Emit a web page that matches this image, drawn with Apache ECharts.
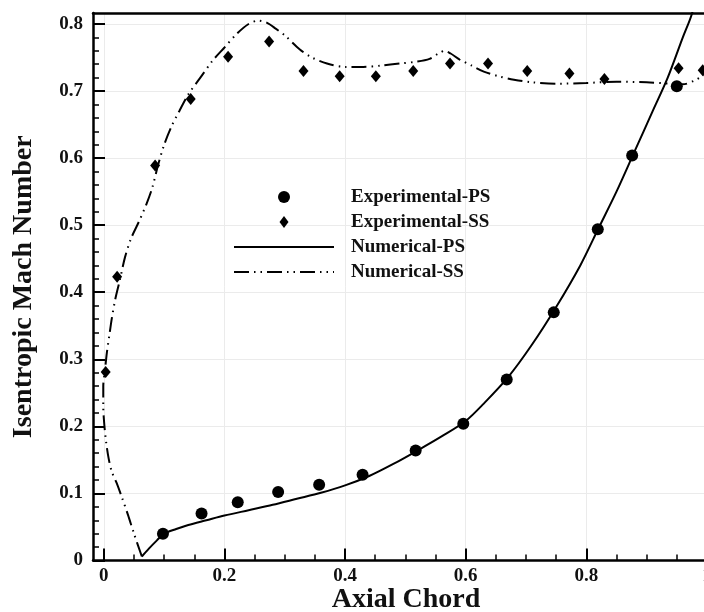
<!DOCTYPE html>
<html>
<head>
<meta charset="utf-8">
<title>Isentropic Mach Number</title>
<script src="https://cdn.jsdelivr.net/npm/echarts@6/dist/echarts.min.js"></script>
<style>
  html, body { margin: 0; padding: 0; background: #fff; }
  #main { width: 704px; height: 612px; }
</style>
</head>
<body>
<div id="main"></div>
<script>
// tick values
var xMajor = [0, 0.2, 0.4, 0.6, 0.8, 1];
var xMinor = [0.05, 0.1, 0.15, 0.25, 0.3, 0.35, 0.45, 0.5, 0.55, 0.65, 0.7, 0.75, 0.85, 0.9, 0.95];
var yMajor = [0, 0.1, 0.2, 0.3, 0.4, 0.5, 0.6, 0.7, 0.8];
var yMinor = [0.02, 0.04, 0.06, 0.08, 0.12, 0.14, 0.16, 0.18, 0.22, 0.24, 0.26, 0.28,
              0.32, 0.34, 0.36, 0.38, 0.42, 0.44, 0.46, 0.48, 0.52, 0.54, 0.56, 0.58,
              0.62, 0.64, 0.66, 0.68, 0.72, 0.74, 0.76, 0.78];

// experimental points [axial chord, mach]
var expPS = [[0.098, 0.04], [0.162, 0.07], [0.222, 0.087], [0.289, 0.102], [0.357, 0.113],
             [0.429, 0.128], [0.517, 0.164], [0.596, 0.204], [0.668, 0.27], [0.746, 0.37],
             [0.819, 0.494], [0.876, 0.604], [0.95, 0.707]];
var expSS = [[0.003, 0.281], [0.022, 0.423], [0.085, 0.589], [0.144, 0.688], [0.206, 0.751],
             [0.274, 0.774], [0.331, 0.73], [0.391, 0.722], [0.451, 0.722], [0.513, 0.73],
             [0.574, 0.741], [0.637, 0.741], [0.702, 0.73], [0.772, 0.726], [0.83, 0.718],
             [0.953, 0.734], [0.993, 0.731]];

// numerical curves
var numPS = [[0.063, 0.006], [0.075, 0.018], [0.088, 0.03], [0.1, 0.04], [0.12, 0.047],
             [0.14, 0.053], [0.17, 0.06], [0.2, 0.067], [0.24, 0.075], [0.28, 0.083],
             [0.32, 0.092], [0.36, 0.101], [0.4, 0.112], [0.44, 0.126], [0.48, 0.144],
             [0.52, 0.164], [0.56, 0.185], [0.6, 0.208], [0.63, 0.234], [0.67, 0.273],
             [0.71, 0.322], [0.75, 0.378], [0.79, 0.44], [0.82, 0.495], [0.85, 0.55],
             [0.88, 0.61], [0.91, 0.67], [0.935, 0.72], [0.96, 0.78], [0.975, 0.815],
             [0.99, 0.87]];
var numSS = [[0.063, 0.006], [0.05, 0.04], [0.04, 0.068], [0.03, 0.094], [0.021, 0.116],
             [0.013, 0.133], [0.008, 0.152], [0.004, 0.175], [0.001, 0.2], [-0.001, 0.23],
             [-0.001, 0.26], [0.002, 0.285], [0.005, 0.31], [0.009, 0.335], [0.013, 0.36],
             [0.019, 0.39], [0.027, 0.42], [0.035, 0.452], [0.045, 0.48], [0.058, 0.505],
             [0.07, 0.53], [0.08, 0.555], [0.09, 0.59], [0.1, 0.62], [0.112, 0.647],
             [0.125, 0.67], [0.14, 0.695], [0.16, 0.72], [0.18, 0.745], [0.2, 0.765],
             [0.22, 0.785], [0.24, 0.8], [0.256, 0.805], [0.27, 0.802], [0.285, 0.793],
             [0.3, 0.783], [0.325, 0.762], [0.345, 0.75], [0.37, 0.741], [0.4, 0.736],
             [0.43, 0.736], [0.46, 0.738], [0.49, 0.741], [0.52, 0.744], [0.54, 0.748],
             [0.555, 0.756], [0.565, 0.76], [0.575, 0.756], [0.59, 0.747], [0.61, 0.738],
             [0.63, 0.729], [0.655, 0.722], [0.68, 0.717], [0.71, 0.713], [0.75, 0.711],
             [0.8, 0.712], [0.85, 0.714], [0.9, 0.713], [0.94, 0.711], [0.96, 0.71],
             [0.98, 0.716], [1.0, 0.726]];

var FONT = '"Liberation Serif", "Times New Roman", serif';
var X_MIN = -0.018, X_MAX = 1.02, Y_MIN = 0, Y_MAX = 0.8164;
// zrender multiplies the dash array by the line width (2)
var ssDash = [15, 5, 1.5, 5, 1.5, 5];

var gridBox = { left: 93, top: 13, width: 626, height: 547.5, containLabel: false, outerBoundsMode: 'none' };

var chart = echarts.init(document.getElementById('main'));
var option = {
    animation: false,
    backgroundColor: '#fff',
    grid: [
        Object.assign({}, gridBox),
        Object.assign({}, gridBox)
    ],
    legend: {
        orient: 'vertical',
        left: 233,
        top: 187,
        padding: 0,
        itemWidth: 100,
        itemHeight: 12,
        itemGap: 5,
        selectedMode: false,
        symbolKeepAspect: true,
        textStyle: {
            fontFamily: FONT, fontWeight: 'bold', fontSize: 19, color: '#111',
            lineHeight: 20, padding: [0, 0, 0, 12]
        },
        data: [
            { name: 'Experimental-PS', icon: 'circle' },
            { name: 'Experimental-SS', icon: 'path://M5,0L9.5,6L5,12L0.5,6Z' },
            { name: 'Numerical-PS', itemStyle: { opacity: 0 } },
            { name: 'Numerical-SS', itemStyle: { opacity: 0 } }
        ]
    },
    xAxis: [
        {   // main bottom axis
            type: 'value', gridIndex: 0, position: 'bottom',
            min: X_MIN, max: X_MAX,
            name: 'Axial Chord', nameLocation: 'middle', nameGap: 25, nameMoveOverlap: false,
            nameTextStyle: { fontFamily: FONT, fontWeight: 'bold', fontSize: 28, color: '#111' },
            axisLine: { show: true, onZero: false, lineStyle: { color: '#000', width: 2.5 } },
            axisTick: { show: true, inside: true, length: 12, customValues: xMajor, lineStyle: { color: '#000', width: 2 } },
            axisLabel: {
                show: true, customValues: xMajor, margin: 6,
                fontFamily: FONT, fontWeight: 'bold', fontSize: 19, color: '#111'
            },
            splitLine: { show: true, lineStyle: { color: '#ebebeb', width: 1 } }
        },
        {   // top frame
            type: 'value', gridIndex: 0, position: 'top',
            min: X_MIN, max: X_MAX,
            axisLine: { show: true, onZero: false, lineStyle: { color: '#000', width: 2.5 } },
            axisTick: { show: false }, axisLabel: { show: false }, splitLine: { show: false }
        },
        {   // minor ticks
            type: 'value', gridIndex: 1, position: 'bottom',
            min: X_MIN, max: X_MAX,
            axisLine: { show: false, onZero: false },
            axisTick: { show: true, inside: true, length: 6, customValues: xMinor, lineStyle: { color: '#000', width: 1.5 } },
            axisLabel: { show: false }, splitLine: { show: false }
        }
    ],
    yAxis: [
        {
            type: 'value', gridIndex: 0, position: 'left',
            min: Y_MIN, max: Y_MAX,
            name: 'Isentropic Mach Number', nameLocation: 'middle', nameGap: 55, nameMoveOverlap: false,
            nameTextStyle: { fontFamily: FONT, fontWeight: 'bold', fontSize: 28, color: '#111' },
            axisLine: { show: true, onZero: false, lineStyle: { color: '#000', width: 2.5 } },
            axisTick: { show: true, inside: true, length: 12, customValues: yMajor, lineStyle: { color: '#000', width: 2 } },
            axisLabel: {
                show: true, customValues: yMajor, margin: 10,
                fontFamily: FONT, fontWeight: 'bold', fontSize: 19, color: '#111',
                formatter: function (v) { return v === 0 ? '0' : v.toFixed(1); }
            },
            splitLine: { show: true, lineStyle: { color: '#ebebeb', width: 1 } }
        },
        {   // minor ticks
            type: 'value', gridIndex: 1, position: 'left',
            min: Y_MIN, max: Y_MAX,
            axisLine: { show: false, onZero: false },
            axisTick: { show: true, inside: true, length: 6, customValues: yMinor, lineStyle: { color: '#000', width: 1.5 } },
            axisLabel: { show: false }, splitLine: { show: false }
        }
    ],
    series: [
        {
            name: 'Numerical-PS', type: 'line', xAxisIndex: 0, yAxisIndex: 0,
            data: numPS, symbol: 'none', smooth: 0.3, clip: true,
            lineStyle: { color: '#000', width: 2 },
            itemStyle: { color: '#000' }
        },
        {
            name: 'Numerical-SS', type: 'line', xAxisIndex: 0, yAxisIndex: 0,
            data: numSS, symbol: 'none', smooth: 0.3, clip: true,
            lineStyle: { color: '#000', width: 2, type: ssDash, cap: 'butt' },
            itemStyle: { color: '#000' }
        },
        {
            name: 'Experimental-PS', type: 'scatter', xAxisIndex: 0, yAxisIndex: 0,
            data: expPS, symbol: 'circle', symbolSize: 12,
            itemStyle: { color: '#000', opacity: 1 }
        },
        {
            name: 'Experimental-SS', type: 'scatter', xAxisIndex: 0, yAxisIndex: 0,
            data: expSS, symbol: 'diamond', symbolSize: [10, 12],
            itemStyle: { color: '#000', opacity: 1 }
        }
    ]
};
chart.setOption(option);
</script>
</body>
</html>
